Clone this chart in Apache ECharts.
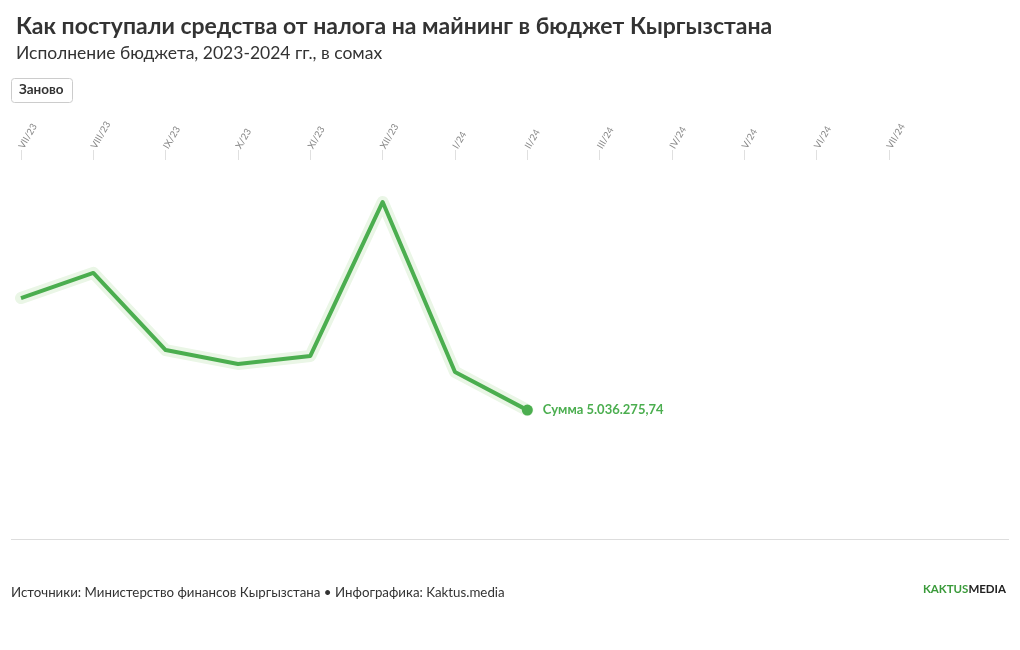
<!DOCTYPE html>
<html><head><meta charset="utf-8">
<script src="https://cdn.jsdelivr.net/npm/echarts@6/dist/echarts.min.js"></script>
<style>html,body{margin:0;padding:0;background:#fff}#c{width:1020px;height:650px}</style>
</head><body><div id="c"></div>
<script>
const categories = ['VII/23','VIII/23','IX/23','X/23','XI/23','XII/23','I/24','II/24','III/24','IV/24','V/24','VI/24','VII/24'];
const values = [9950000, 11050000, 7670000, 7060000, 7410000, 14160000, 6710000, 5036275.74];
const lastLabel = 'Сумма 5.036.275,74';
const titleText = 'Как поступали средства от налога на майнинг в бюджет Кыргызстана';
const subtitleText = 'Исполнение бюджета, 2023-2024 гг., в сомах';
const sourceText = 'Источники: Министерство финансов Кыргызстана • Инфографика: Kaktus.media';

const FONT = 'Lato, "Noto Sans", sans-serif';
const green = '#4bae4f';
const lastIdx = values.length - 1;
const chart = echarts.init(document.getElementById('c'));
chart.setOption({
  animation: false,
  textStyle: { fontFamily: FONT },
  title: [
    { text: titleText, left: 11, top: 10, textStyle: { fontFamily: FONT, fontSize: 23, fontWeight: 'bold', color: '#333' } },
    { text: subtitleText, left: 11, top: 39, textStyle: { fontFamily: FONT, fontSize: 17.5, fontWeight: 'normal', color: '#333' } }
  ],
  grid: { left: 21, right: 131, top: 160, bottom: 125 },
  xAxis: {
    type: 'category', position: 'top', boundaryGap: false, data: categories,
    axisLine: { show: false, onZero: false },
    axisTick: { show: true, length: 10, alignWithLabel: true, lineStyle: { color: '#e0e0e0' } },
    axisLabel: { rotate: -60, fontSize: 9.5, color: '#888', margin: 12, fontFamily: FONT, interval: 0 },
    splitLine: { show: false }
  },
  yAxis: { type: 'value', min: 0, max: 16000000, show: false, splitLine: { show: false } },
  series: [
    { type: 'line', data: values, symbol: 'none', silent: true, z: 1,
      lineStyle: { width: 12, color: '#eaf6e6', join: 'round', cap: 'round' } },
    { type: 'line', data: values.map((v, i) => i === lastIdx ? { value: v, symbol: 'circle', symbolSize: 11,
        label: { show: true, position: 'right', distance: 10, formatter: lastLabel, color: green, fontWeight: 'bold', fontSize: 13, fontFamily: FONT } } : v),
      symbol: 'none', z: 2,
      itemStyle: { color: green },
      lineStyle: { width: 4, color: green, join: 'round' } }
  ],
  graphic: [
    { type: 'rect', left: 11, top: 78, shape: { width: 61, height: 24, r: 3 }, style: { fill: '#fff', stroke: '#ccc', lineWidth: 1 } },
    { type: 'text', left: 19, top: 83, style: { text: 'Заново', font: 'bold 13.5px ' + FONT, fill: '#333' } },
    { type: 'line', shape: { x1: 11, y1: 539.5, x2: 1009, y2: 539.5 }, style: { stroke: '#ddd', lineWidth: 1 } },
    { type: 'text', left: 11, top: 586, style: { text: sourceText, font: '13.3px ' + FONT, fill: '#333' } },
    { type: 'text', right: 14, top: 583, style: { text: '{g|KAKTUS}{d|MEDIA}',
        rich: { g: { fill: '#3a9a3a', font: 'bold 11.5px ' + FONT }, d: { fill: '#222', font: 'bold 11.5px ' + FONT } } } }
  ]
});
</script></body></html>
